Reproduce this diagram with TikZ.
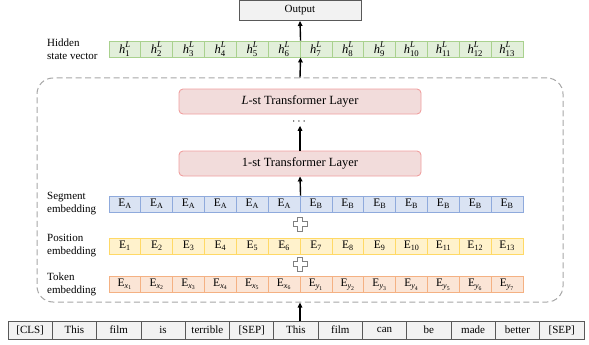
\documentclass[tikz,border=0pt]{standalone}
\usepackage{amsmath}
\usepackage{fontspec}
\setmainfont{Liberation Serif}
\usetikzlibrary{arrows.meta,calc}
\definecolor{hfill}{HTML}{E2EFDA}\definecolor{hdraw}{HTML}{A9D18E}
\definecolor{sfill}{HTML}{DAE3F3}\definecolor{sdraw}{HTML}{8FAADC}
\definecolor{pfill}{HTML}{FFF2CC}\definecolor{pdraw}{HTML}{FFD966}
\definecolor{tfill}{HTML}{FBE5D6}\definecolor{tdraw}{HTML}{F4B183}
\definecolor{lfill}{HTML}{F2DCDB}\definecolor{ldraw}{HTML}{F0A0A0}
\definecolor{ofill}{HTML}{F2F2F2}\definecolor{odraw}{HTML}{595959}
\newcommand{\hvec}[1]{$\textit{h}^{\textit{L}}_{\text{#1}}$}
\newcommand{\Esub}[1]{E$_{\text{#1}}$}
\newcommand{\Etok}[2]{E$_{\textit{#1}_{\text{#2}}}$}
\tikzset{
  cell/.style={draw, line width=0.9pt, minimum width=31.85, minimum height=16, inner sep=0pt, font=\fontsize{11.5}{11.5}\selectfont},
  hcell/.style={cell, draw=hdraw, fill=hfill, font=\fontsize{12.5}{12.5}\selectfont},
  scell/.style={cell, draw=sdraw, fill=sfill},
  pcell/.style={cell, draw=pdraw, fill=pfill},
  tcell/.style={cell, draw=tdraw, fill=tfill},
  incell/.style={draw=odraw, line width=0.8pt, fill=ofill, minimum width=44.3, minimum height=18, inner sep=0pt, font=\fontsize{11}{11}\selectfont},
  layer/.style={draw=ldraw, line width=0.9pt, fill=lfill, rounded corners=4pt, minimum width=242, minimum height=25, inner sep=0pt, font=\fontsize{12.5}{12.5}\selectfont},
  lab/.style={anchor=west, align=left, inner sep=0pt, font=\fontsize{11}{13}\selectfont},
  arr/.style={-{Triangle[length=5pt,width=4.5pt]}, line width=1.4pt},
  plusshape/.style={draw=gray, fill=white, line width=0.8pt}
}
\begin{document}
\begin{tikzpicture}[x=1pt,y=-1pt]
\useasboundingbox (0,0) rectangle (589,345);
% dashed container
\node[draw=black!35, dash pattern=on 6pt off 3.5pt, line width=1pt, rounded corners=16pt, minimum width=526, minimum height=224, inner sep=0pt] (dash) at (300,190) {};
% output
\node[draw=odraw, fill=ofill, line width=0.9pt, minimum width=122, minimum height=20, inner sep=0pt, font=\fontsize{11}{11}\selectfont] (out) at (300,10.5) {Output};
% hidden row
\foreach \i in {1,...,13} {
  \node[hcell] (h\i) at ({109+31.85*(\i-0.5)},49) {\hvec{\i}};
}
% transformer layers
\node[layer] (tL) at (300,101.5) {\textit{L}-st Transformer Layer};
\node[layer] (t1) at (300,163.5) {1-st Transformer Layer};
\node[inner sep=0pt, font=\fontsize{12}{12}\selectfont] (dots) at (300,122) {$\cdots$};
% segment row
\foreach \i in {1,...,6} {
  \node[scell] (s\i) at ({109+31.85*(\i-0.5)},204) {\Esub{A}};
}
\foreach \i in {7,...,13} {
  \node[scell] (s\i) at ({109+31.85*(\i-0.5)},204) {\Esub{B}};
}
% position row
\foreach \i in {1,...,13} {
  \node[pcell] (p\i) at ({109+31.85*(\i-0.5)},246) {\Esub{\i}};
}
% token row
\foreach \i in {1,...,6} {
  \node[tcell] (k\i) at ({109+31.85*(\i-0.5)},284.5) {\Etok{x}{\i}};
}
\foreach \i [evaluate=\i as \j using int(\i-6)] in {7,...,13} {
  \node[tcell] (k\i) at ({109+31.85*(\i-0.5)},284.5) {\Etok{y}{\j}};
}
% input row
\foreach \w [count=\i] in {[CLS],This,film,is,terrible,[SEP],This,film,can,be,made,better,[SEP]} {
  \node[incell] (in\i) at ({8+44.3*(\i-0.5)},330) {\w};
}
% labels
\node[lab] (lh) at (47,49) {Hidden\\state vector};
\node[lab] (ls) at (47,204) {Segment\\embedding};
\node[lab] (lp) at (47,246) {Position\\embedding};
\node[lab] (lt) at (47,284.5) {Token\\embedding};
% plus signs
\foreach \yy/\nm in {224/plA,264/plB} {
  \coordinate (\nm) at (300,\yy);
  \draw[plusshape] ($(\nm)+(-2.6,-7)$) -- ($(\nm)+(2.6,-7)$) -- ($(\nm)+(2.6,-2.6)$) -- ($(\nm)+(7,-2.6)$) -- ($(\nm)+(7,2.6)$) -- ($(\nm)+(2.6,2.6)$) -- ($(\nm)+(2.6,7)$) -- ($(\nm)+(-2.6,7)$) -- ($(\nm)+(-2.6,2.6)$) -- ($(\nm)+(-7,2.6)$) -- ($(\nm)+(-7,-2.6)$) -- ($(\nm)+(-2.6,-2.6)$) -- cycle;
}
% arrows
\draw[arr] (dash.south |- in7.north) -- (dash.south);
\draw[arr] (s6.north east) -- (t1.south);
\draw[arr] (t1.north) -- ($(dots.south)+(0,1)$);
\draw[arr] (dash.north) -- (h6.south east);
\draw[arr] (h6.north east) -- (out.south);
\end{tikzpicture}
\end{document}
